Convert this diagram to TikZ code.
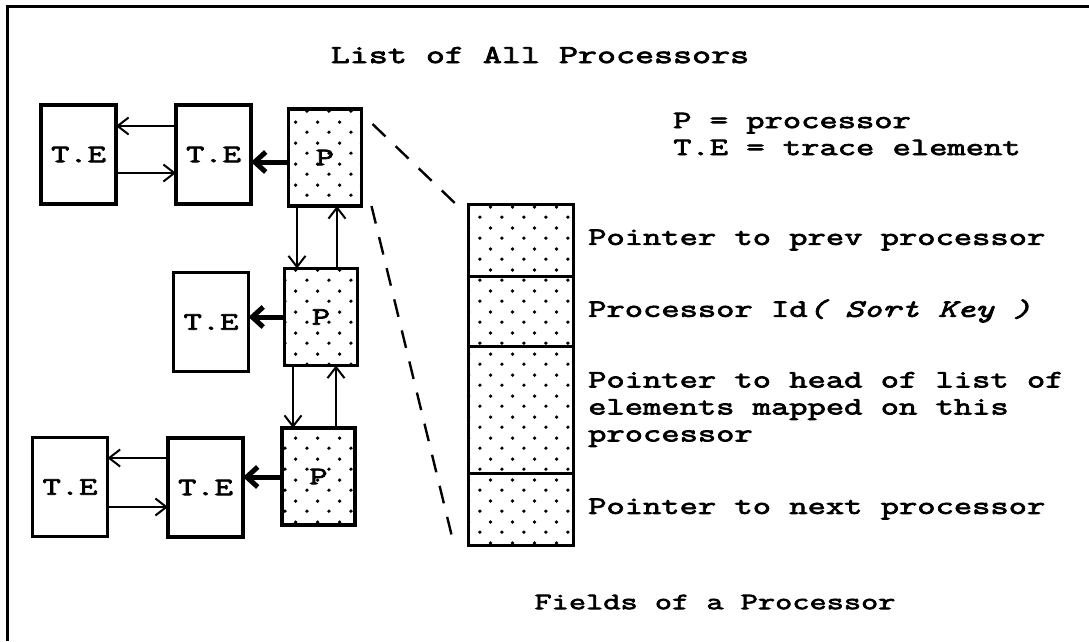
\documentclass[tikz,border=0pt]{standalone}
\usepackage{fontspec}
\usepackage{tikz}
\usetikzlibrary{arrows.meta, positioning, patterns.meta, calc}
\newfontfamily\typefont[FakeStretch=1.42, FakeBold=3]{Latin Modern Mono}

\tikzdeclarepattern{
  name=stipple, type=uncolored,
  bounding box={(0pt,0pt) and (21.6pt,21pt)},
  tile size={(21.6pt,21pt)},
  code={
    \fill (5pt,5pt) circle (1.9pt);
    \fill (15.8pt,15.5pt) circle (1.9pt);
  }
}

\tikzset{
  txt/.style={font=\typefont\fontsize{25}{27}\selectfont, inner sep=0pt},
  tebox/.style={rectangle, draw, line width=3.2pt, minimum width=75pt,
    minimum height=99pt, txt, outer sep=0pt},
  pbox/.style={rectangle, draw, line width=3.2pt, pattern=stipple,
    minimum width=73pt, minimum height=97pt, txt, outer sep=0pt},
  field/.style={rectangle, draw, line width=3pt, pattern=stipple,
    minimum width=105pt, outer sep=0pt, inner sep=0pt},
  link/.style={-{Straight Barb[length=11pt,width=17pt]}, line width=2pt},
  head/.style={-{Straight Barb[length=11pt,width=20pt]}, line width=5pt},
  zoomline/.style={dash pattern=on 18pt off 14pt, line width=2.4pt},
  frame/.style={line width=3pt}
}

\begin{document}
\begin{tikzpicture}[x=1pt, y=-1pt, node distance=0pt]
  \useasboundingbox (0,0) rectangle (1089,641);
  \draw[frame] (1089,6) -- (7,6) -- (7,641);

  \node[txt, font=\typefont\fontsize{26}{28}\selectfont] (title) at (540,55)
    {List of All Processors};
  \node[txt, align=left, anchor=west] (legend) at (673,134)
    {P = processor\\T.E = trace element};

  % processor list
  \node[tebox] (te1a) at (78.5,154.5) {T.E};
  \node[tebox] (te1b) at (213.5,154.5) {T.E};
  \node[pbox] (p1) at (325,157.5) {P};
  \node[tebox] (te2) at (211,322) {T.E};
  \node[pbox] (p2) at (321,317) {P};
  \node[tebox] (te3a) at (70,487) {T.E};
  \node[tebox] (te3b) at (205.5,487.5) {T.E};
  \node[pbox] (p3) at (318.5,476.5) {P};

  \draw[link] (te1b.west |- 0,126) -- (te1a.east |- 0,126);
  \draw[link] (te1a.east |- 0,173) -- (te1b.west |- 0,173);
  \draw[head] (p1.west |- 0,162) -- (te1b.east |- 0,162);
  \draw[head] (p2.west |- 0,317) -- (te2.east |- 0,317);
  \draw[link] (te3b.west |- 0,458) -- (te3a.east |- 0,458);
  \draw[link] (te3a.east |- 0,507) -- (te3b.west |- 0,507);
  \draw[head] (p3.west |- 0,477) -- (te3b.east |- 0,477);

  \draw[link] (p1.south -| 297,0) -- (p2.north -| 297,0);
  \draw[link] (p2.north -| 337,0) -- (p1.south -| 337,0);
  \draw[link] (p2.south -| 293,0) -- (p3.north -| 293,0);
  \draw[link] (p3.north -| 336,0) -- (p2.south -| 336,0);

  % fields of one processor
  \node[field, minimum height=72pt, anchor=north west] (f1) at (468,204) {};
  \node[field, minimum height=70pt, below=of f1] (f2) {};
  \node[field, minimum height=127pt, below=of f2] (f3) {};
  \node[field, minimum height=72pt, below=of f3] (f4) {};

  \node[txt, right=15pt of f1] (l1) {Pointer to prev processor};
  \node[txt, right=15pt of f2] (l2) {Processor Id{\itshape( Sort Key )}};
  \node[txt, right=15pt of f3, align=left] (l3)
    {Pointer to head of list of\\elements mapped on this\\processor};
  \node[txt, right=15pt of f4] (l4) {Pointer to next processor};

  \draw[zoomline] ($(p1.north east)+(11,15)$) -- ($(f1.north west)+(-8,4)$);
  \draw[zoomline] ($(p1.south east)+(10,0)$) -- ($(f4.south west)+(-14,0)$);

  \node[txt, font=\typefont\fontsize{23.5}{25}\selectfont] (caption) at (715,602)
    {Fields of a Processor};
\end{tikzpicture}
\end{document}
